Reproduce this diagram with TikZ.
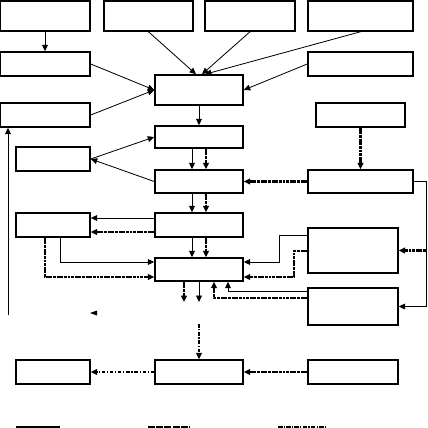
\documentclass[tikz,border=0pt]{standalone}
\usetikzlibrary{arrows.meta,calc}

\begin{document}
\begin{tikzpicture}[x=0.3mm, y=-0.3mm,
    block/.style={draw, line width=1.3pt, inner sep=0pt},
    sz/.style 2 args={minimum width=#1*0.3mm, minimum height=#2*0.3mm},
    link/.style={-{Triangle[length=5.5pt, width=5pt]}, line width=0.7pt},
    dlink/.style={link, line width=1.9pt, dash pattern=on 2.5pt off 0.6pt},
    ddlink/.style={link, line width=1.6pt, dash pattern=on 3pt off 1.5pt on 1pt off 1.5pt}
]
\useasboundingbox (0,0) rectangle (427,428);
\node[block, sz={90}{30}] (a) at (45,16) {};
\node[block, sz={89}{30}] (b) at (148.5,16) {};
\node[block, sz={90}{30}] (c) at (250,16) {};
\node[block, sz={105}{30}] (d) at (360.5,16) {};
\node[block, sz={90}{24}] (e) at (45,64) {};
\node[block, sz={105}{24}] (f) at (360.5,64) {};
\node[block, sz={88}{30}] (g) at (199,90) {};
\node[block, sz={90}{24}] (h) at (45,115) {};
\node[block, sz={89}{24}] (i) at (360.5,115) {};
\node[block, sz={88}{22}] (j) at (199,137) {};
\node[block, sz={74}{24}] (k) at (53,159) {};
\node[block, sz={88}{23}] (l) at (199,181.5) {};
\node[block, sz={105}{23}] (m) at (360.5,181.5) {};
\node[block, sz={74}{24}] (n) at (53,225) {};
\node[block, sz={88}{24}] (o) at (199,225) {};
\node[block, sz={90}{45}] (p) at (353,250.5) {};
\node[block, sz={88}{23}] (q) at (199,269.5) {};
\node[block, sz={90}{37}] (r) at (353,306.5) {};
\node[block, sz={74}{24}] (s) at (53,372) {};
\node[block, sz={88}{24}] (t) at (199,372) {};
\node[block, sz={90}{24}] (u) at (353,372) {};
\coordinate (rr) at (426,181.5);
\coordinate (q1) at (184,302);
\coordinate (q2) at (199,302);
\coordinate (lb) at (8,315);
\coordinate (tip) at (90,313);
\coordinate (tt) at (199,324);
\draw[link] (a) -- (e);
\draw[link] (b.south) -- ($(g.north)+(-3,0)$);
\draw[link] (c.south) -- ($(g.north)+(3,0)$);
\draw[link] (d.south) -- ($(g.north)+(6,0)$);
\draw[link] (e.east) -- (g.west);
\draw[link] (h.east) -- (g.west);
\draw[link] (f.west) -- (g.east);
\draw[link] (g) -- (j);
\draw[link] (k.east) -- (j.west);
\draw[link] (l.west) -- (k.east);
\draw[link] ($(j.south)+(-7,0)$) -- ($(l.north)+(-7,0)$);
\draw[dlink] ($(j.south)+(7,0)$) -- ($(l.north)+(7,0)$);
\draw[link] ($(l.south)+(-7,0)$) -- ($(o.north)+(-7,0)$);
\draw[dlink] ($(l.south)+(7,0)$) -- ($(o.north)+(7,0)$);
\draw[link] ($(o.south)+(-7,0)$) -- ($(q.north)+(-7,0)$);
\draw[dlink] ($(o.south)+(7,0)$) -- ($(q.north)+(7,0)$);
\draw[dlink] (i) -- (m);
\draw[dlink] (m.west) -- (l.east);
\draw[link] (m.east) -- (rr) |- (r.east);
\draw[dlink] (rr |- p.east) -- (p.east);
\draw[link] ($(o.west)+(0,-7)$) -- ($(n.east)+(0,-7)$);
\draw[dlink] ($(o.west)+(0,7)$) -- ($(n.east)+(0,7)$);
\draw[link] ($(n.south)+(7,0)$) |- ($(q.west)+(0,-7.5)$);
\draw[dlink] ($(n.south)+(-8,0)$) |- ($(q.west)+(0,7.5)$);
\draw[link] ($(p.north west)+(0,8)$) -- ++(-28,0) |- ($(q.east)+(0,-7.5)$);
\draw[dlink] ($(p.west)+(0,0.5)$) -- ++(-13,0) |- ($(q.east)+(0,7.5)$);
\draw[dlink] (q.south -| q1) -- (q1);
\draw[link] (q.south -| q2) -- (q2);
\draw[link] ($(r.north west)+(0,4)$) -| ($(q.south)+(29,0)$);
\draw[dlink] ($(r.north west)+(0,11)$) -| ($(q.south)+(15,0)$);
\draw[link] (lb) -- (lb |- h.south);
\fill (tip) -- ++(7,-2.5) -- ++(0,5) -- cycle;
\draw[ddlink] (tt) -- (t.north);
\draw[ddlink] (t.west) -- (s.east);
\draw[dlink] (u.west) -- (t.east);
\draw[line width=3pt] (16,428) -- (60,428);
\draw[line width=3pt, dash pattern=on 6pt off 1pt] (148,428) -- (190,428);
\draw[line width=3pt, dash pattern=on 4pt off 1pt on 1pt off 1pt] (278,428) -- (325,428);
\end{tikzpicture}
\end{document}
